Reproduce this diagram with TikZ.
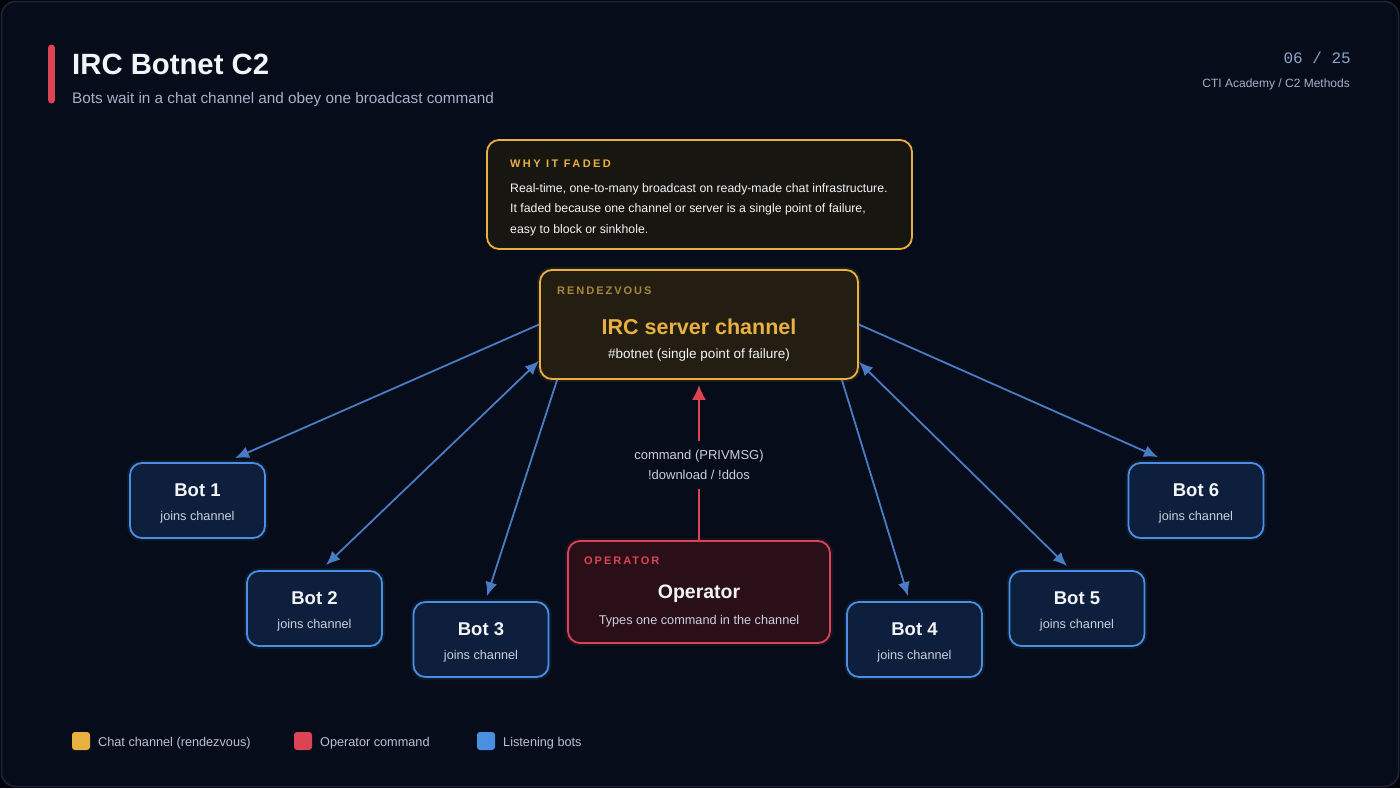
\documentclass[tikz,border=0pt]{standalone}
\usepackage{fontspec}
\setmainfont{Liberation Sans}
\newfontfamily\monofont{Liberation Mono}
\newfontfamily\spacedfont[LetterSpace=18]{Liberation Sans}
\newfontfamily\widespacedfont[LetterSpace=22]{Liberation Sans}
\usetikzlibrary{arrows.meta,calc}
\definecolor{outerbg}{HTML}{020409}
\definecolor{pagebg}{HTML}{060C19}
\definecolor{framec}{HTML}{1B2538}
\definecolor{amber}{HTML}{E8B13F}
\definecolor{amberdim}{HTML}{A8883C}
\definecolor{whyfill}{HTML}{181610}
\definecolor{rvfill}{HTML}{241E12}
\definecolor{redc}{HTML}{DC4355}
\definecolor{opfill}{HTML}{2A0F19}
\definecolor{bluec}{HTML}{4A8FE0}
\definecolor{botfill}{HTML}{0D1F3C}
\definecolor{arrowblue}{HTML}{4A7CC5}
\definecolor{textwhite}{HTML}{F2F4F8}
\definecolor{textgray}{HTML}{C9D1DE}
\definecolor{subc}{HTML}{A6B2C9}
\definecolor{pagec}{HTML}{8EA4CC}
\definecolor{legendc}{HTML}{B9C3D3}
\newcommand\fsz[2]{\fontsize{#1pt}{#2pt}\selectfont}
\begin{document}
\begin{tikzpicture}[x=1pt,y=-1pt,
  box/.style={rounded corners=12pt, line width=1.8pt, inner sep=0pt},
  botbox/.style={box, draw=bluec, fill=botfill, minimum width=135pt, minimum height=75pt},
  glowblue/.style={rounded corners=12pt, draw=bluec, line width=6pt, opacity=0.10, minimum width=135pt, minimum height=75pt},
  bottitle/.style={anchor=base, inner sep=0pt, text=textwhite, font=\fsz{18.5}{22}\bfseries},
  botsub/.style={anchor=base, inner sep=0pt, text=textgray, font=\fsz{12.7}{15}},
  bluetip/.tip={Latex[length=14pt,width=12pt]},
  link/.style={draw=arrowblue, line width=1.8pt, -bluetip},
  dlink/.style={draw=arrowblue, line width=1.8pt, bluetip-bluetip},
  tag/.style={anchor=base west, inner sep=0pt, font=\fsz{11}{13}\spacedfont\bfseries},
  legsq/.style={rounded corners=3pt, minimum width=18pt, minimum height=18pt, inner sep=0pt},
  legtxt/.style={anchor=base west, inner sep=0pt, text=legendc, font=\fsz{12.7}{15}}
]
\useasboundingbox (0,0) rectangle (1400,788);
\fill[outerbg] (0,0) rectangle (1400,788);
\draw[framec, fill=pagebg, line width=1.5pt, rounded corners=14pt] (1.5,1.5) rectangle (1398.5,786.5);

% header
\draw[redc, line width=7pt, line cap=round] (51.5,48) -- (51.5,100);
\node[anchor=base west, inner sep=0pt, text=textwhite, font=\fsz{29.3}{34}\bfseries] (title) at (72,74) {IRC Botnet C2};
\node[anchor=base west, inner sep=0pt, text=subc, font=\fsz{15.3}{18}] (subtitle) at (72,103) {Bots wait in a chat channel and obey one broadcast command};
\node[anchor=base east, inner sep=0pt, text=pagec, font=\fsz{16}{19}\monofont] (page) at (1351,63) {06 / 25};
\node[anchor=base east, inner sep=0pt, text=subc, font=\fsz{12}{14}] (crumb) at (1350,87) {CTI Academy / C2 Methods};

% why box
\node[box, draw=amber, fill=whyfill, minimum width=425pt, minimum height=109pt] (why) at (699.5,194.5) {};
\node[anchor=base west, inner sep=0pt, text=amber, font=\fsz{11}{13}\widespacedfont\bfseries] (whytag) at (510,167) {WHY IT FADED};
\node[anchor=base west, inner sep=0pt, text=textwhite, font=\fsz{12.3}{15}] (why1) at (510,192) {Real-time, one-to-many broadcast on ready-made chat infrastructure.};
\node[anchor=base west, inner sep=0pt, text=textwhite, font=\fsz{12.3}{15}] (why2) at (510,212.5) {It faded because one channel or server is a single point of failure,};
\node[anchor=base west, inner sep=0pt, text=textwhite, font=\fsz{12.3}{15}] (why3) at (510,233) {easy to block or sinkhole.};

% rendezvous
\node[rounded corners=12pt, draw=amber, line width=6pt, opacity=0.10, minimum width=318pt, minimum height=109pt] (rvglow) at (699,324.5) {};
\node[box, draw=amber, fill=rvfill, minimum width=318pt, minimum height=109pt] (rv) at (699,324.5) {};
\node[tag, text=amberdim] (rvtag) at (557,294) {RENDEZVOUS};
\node[anchor=base, inner sep=0pt, text=amber, font=\fsz{21.5}{25}\bfseries] (rvtitle) at (699,334) {IRC server channel};
\node[anchor=base, inner sep=0pt, text=textwhite, font=\fsz{13.5}{16}] (rvsub) at (699,358) {\#botnet (single point of failure)};

% operator
\node[rounded corners=12pt, draw=redc, line width=6pt, opacity=0.10, minimum width=262pt, minimum height=102pt] (opglow) at (699,592) {};
\node[box, draw=redc, fill=opfill, minimum width=262pt, minimum height=102pt] (op) at (699,592) {};
\node[tag, text=redc] (optag) at (584,564) {OPERATOR};
\node[anchor=base, inner sep=0pt, text=textwhite, font=\fsz{19.5}{23}\bfseries] (optitle) at (699,598) {Operator};
\node[anchor=base, inner sep=0pt, text=textgray, font=\fsz{12.7}{15}] (opsub) at (699,624) {Types one command in the channel};

% command label and arrow
\node[inner sep=0pt, minimum height=48pt, align=center, text=textgray, font=\fsz{13}{20}] (cmd) at (699,465) {command (PRIVMSG)\\!download / !ddos};
\draw[redc, line width=1.8pt] (op.north) -- (cmd.south);
\draw[redc, line width=1.8pt, -{Latex[length=15pt,width=14pt]}, shorten >=5pt] (cmd.north) -- (rv.south);

% bots
\foreach \n/\cx/\cy in {1/197.5/500.5, 2/314.5/608.5, 3/481/639.5, 4/914.5/639.5, 5/1077/608.5, 6/1196/500.5}{
  \node[glowblue] (g\n) at (\cx,\cy) {};
  \node[botbox] (b\n) at (\cx,\cy) {};
  \node[bottitle] (bt\n) at ([yshift=4.5pt]b\n.center) {Bot \n};
  \node[botsub] (bs\n) at ([yshift=-19.5pt]b\n.center) {joins channel};
}

% links
\draw[link] (rv.west) -- ([shift={(37.5,-4)}]b1.north);
\draw[dlink] ([shift={(0,-19)}]rv.south west) -- ([shift={(11.5,-5)}]b2.north);
\draw[link] ([shift={(18,0)}]rv.south west) -- ([shift={(6,-5)}]b3.north);
\draw[link] ([shift={(-17,0)}]rv.south east) -- ([shift={(-6.5,-5)}]b4.north);
\draw[dlink] ([shift={(0,-18)}]rv.south east) -- ([shift={(-10,-4)}]b5.north);
\draw[link] (rv.east) -- ([shift={(-38,-5)}]b6.north);

% legend
\node[legsq, fill=amber] (l1) at (81,741) {};
\node[legtxt] (l1t) at (98,746) {Chat channel (rendezvous)};
\node[legsq, fill=redc] (l2) at (303,741) {};
\node[legtxt] (l2t) at (320,746) {Operator command};
\node[legsq, fill=bluec] (l3) at (486,741) {};
\node[legtxt] (l3t) at (503,746) {Listening bots};
\end{tikzpicture}
\end{document}
